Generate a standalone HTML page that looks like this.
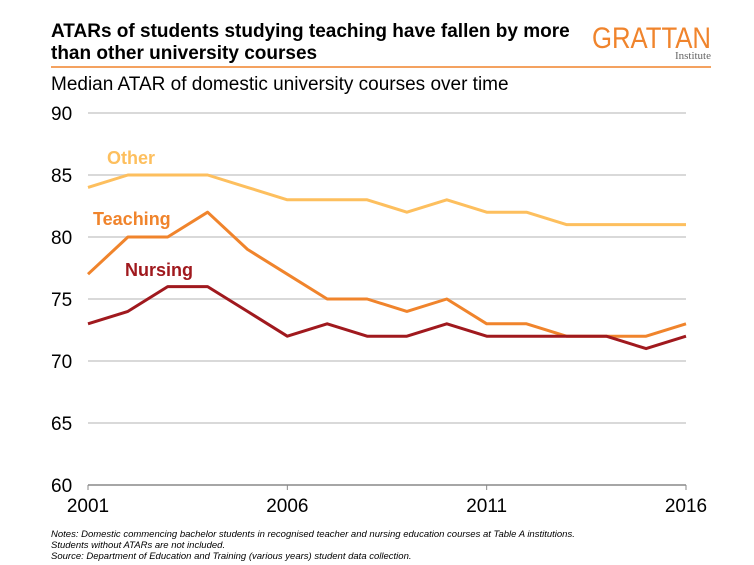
<!DOCTYPE html>
<html><head><meta charset="utf-8">
<style>
body{margin:0;background:#fff;width:754px;height:565px;overflow:hidden;font-family:"Liberation Sans",Arial,sans-serif;}
svg{display:block}
</style></head>
<body>
<svg id="chart" width="754" height="565" xmlns="http://www.w3.org/2000/svg">
<text x="51" y="37" font-size="19" font-weight="bold" fill="#000">ATARs of students studying teaching have fallen by more</text>
<text x="51" y="59" font-size="19" font-weight="bold" fill="#000">than other university courses</text>
<text x="592" y="48" font-size="30" fill="#f0842c" textLength="119" lengthAdjust="spacingAndGlyphs">GRATTAN</text>
<text x="711" y="59" font-size="11" fill="#666" text-anchor="end" font-family="Liberation Serif,serif">Institute</text>
<line x1="51" y1="67" x2="711" y2="67" stroke="#f0842c" stroke-width="1.5"/>
<text x="51" y="90" font-size="19" fill="#000">Median ATAR of domestic university courses over time</text>
<g id="grid"></g><g id="series"></g><g id="labels"></g>
<text x="51" y="537" font-size="9.5" font-style="italic" fill="#000">Notes: Domestic commencing bachelor students in recognised teacher and nursing education courses at Table A institutions.</text>
<text x="51" y="548" font-size="9.5" font-style="italic" fill="#000">Students without ATARs are not included.</text>
<text x="51" y="559" font-size="9.5" font-style="italic" fill="#000">Source: Department of Education and Training (various years) student data collection.</text>
</svg>
<script>
const years=[2001,2002,2003,2004,2005,2006,2007,2008,2009,2010,2011,2012,2013,2014,2015,2016];
const otherVals=[84,85,85,85,84,83,83,83,82,83,82,82,81,81,81,81];
const teachingVals=[77,80,80,82,79,77,75,75,74,75,73,73,72,72,72,73];
const nursingVals=[73,74,76,76,74,72,73,72,72,73,72,72,72,72,71,72];
const yTicks=[60,65,70,75,80,85,90];
const xTickLabels=[2001,2006,2011,2016];
const NS="http://www.w3.org/2000/svg";
const x0=88,x1=686,yTop=113,yBot=485;
const xs=y=>x0+(y-years[0])/(years[years.length-1]-years[0])*(x1-x0);
const ys=v=>yBot-(v-60)/(90-60)*(yBot-yTop);
function mk(tag,attrs,parent,text){const e=document.createElementNS(NS,tag);for(const k in attrs)e.setAttribute(k,attrs[k]);if(text!==undefined)e.textContent=text;parent.appendChild(e);return e;}
const grid=document.getElementById('grid');
yTicks.forEach(v=>{
  const l=mk('line',{x1:x0,x2:x1,y1:ys(v),y2:ys(v),stroke:v===60?'#888':'#d9d9d9','stroke-width':v===60?1.5:2},grid);
  
  
  const t=mk('text',{x:51,y:ys(v)+7,'font-size':19,fill:'#000'},grid,v);
  
  
});
xTickLabels.forEach(yr=>{
  const tk=mk('line',{x1:xs(yr),x2:xs(yr),y1:yBot,y2:yBot+5,stroke:'#888'},grid);
  
  
  const t=mk('text',{x:xs(yr),y:yBot+27,'font-size':19,fill:'#000','text-anchor':'middle'},grid,yr);
  
  
});
const ser=document.getElementById('series');
function line(vals,color,name){
  const d=vals.map((v,i)=>(i?'L':'M')+xs(years[i]).toFixed(1)+' '+ys(v).toFixed(1)).join(' ');
  const p=mk('path',{d:d,fill:'none',stroke:color,'stroke-width':3,'stroke-linejoin':'round'},ser);
  
  
}
line(otherVals,'#fdbf5e','other-line');
line(teachingVals,'#f0842c','teaching-line');
line(nursingVals,'#a0191e','nursing-line');
const lab=document.getElementById('labels');
let a=mk('text',{x:107,y:164,'font-size':18,'font-weight':'bold',fill:'#fdbf5e'},lab,'Other');


a=mk('text',{x:93,y:225,'font-size':18,'font-weight':'bold',fill:'#f0842c'},lab,'Teaching');


a=mk('text',{x:125,y:276,'font-size':18,'font-weight':'bold',fill:'#a0191e'},lab,'Nursing');


</script>
</body></html>
